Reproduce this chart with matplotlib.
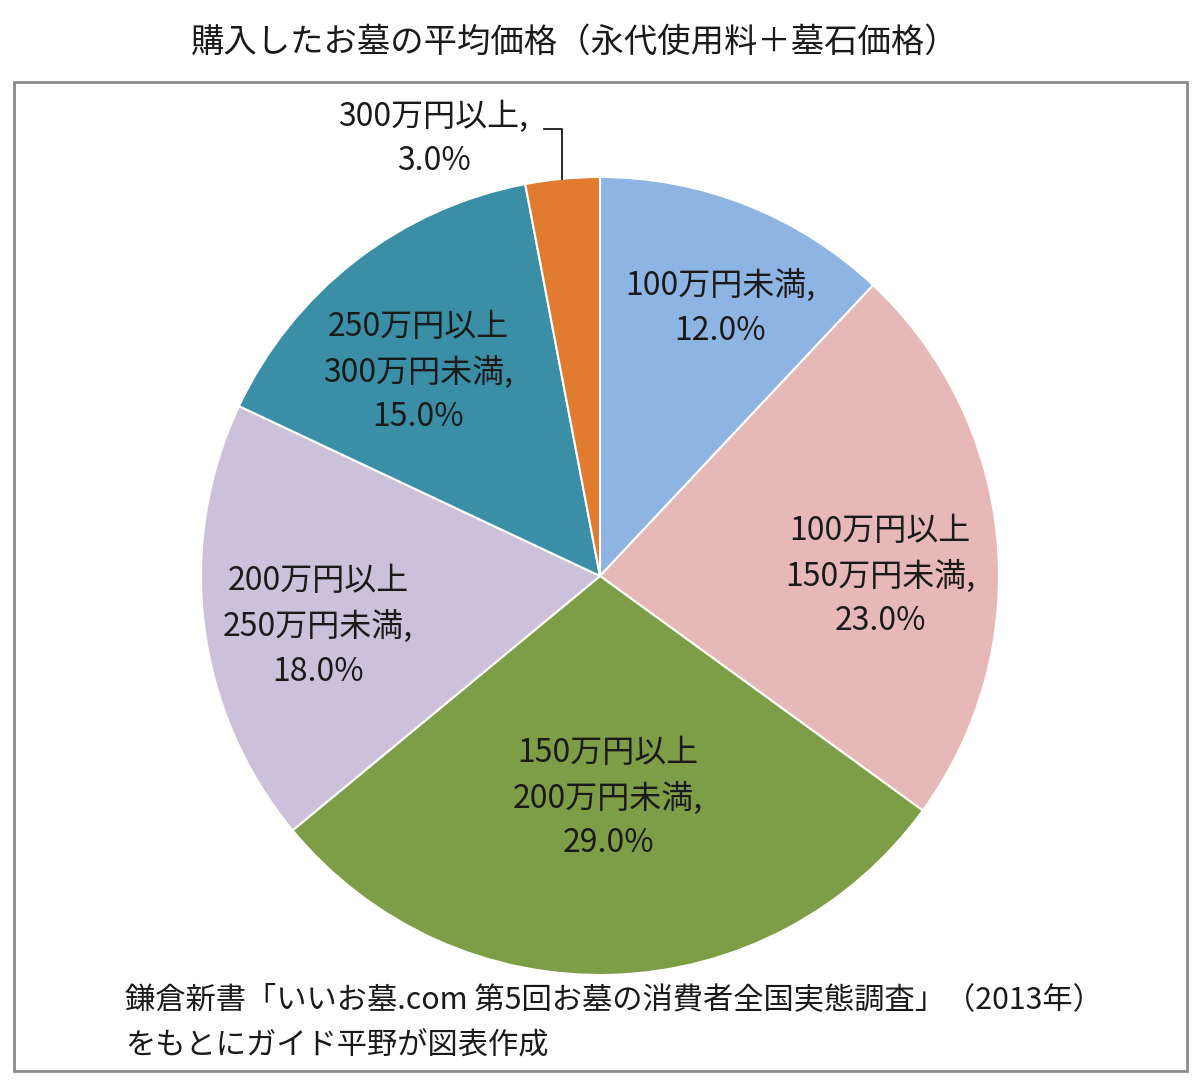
import numpy as np
import matplotlib
matplotlib.use("Agg")
import matplotlib.pyplot as plt
from matplotlib.patches import Rectangle

plt.rcParams['font.family'] = ['Noto Sans CJK JP', 'DejaVu Sans']

title = "購入したお墓の平均価格（永代使用料＋墓石価格）"
categories = ["100万円未満", "100万円以上\n150万円未満", "150万円以上\n200万円未満",
              "200万円以上\n250万円未満", "250万円以上\n300万円未満", "300万円以上"]
values = [12.0, 23.0, 29.0, 18.0, 15.0, 3.0]
colors = ["#8DB4E2", "#E6B9B8", "#7E9D47", "#CCC1DA", "#3A8FA6", "#E07B30"]
source_lines = ["鎌倉新書「いいお墓.com 第5回お墓の消費者全国実態調査」（2013年）",
                "をもとにガイド平野が図表作成"]

W, H = 1200, 1086
fig = plt.figure(figsize=(W / 100, H / 100), dpi=100)

# outer frame
fig.patches.append(Rectangle((14 / W, 1 - 1071 / H), (1187 - 14) / W, (1071 - 82) / H,
                             transform=fig.transFigure, fill=False,
                             edgecolor="#8c8c8c", linewidth=2))

cx, cy, R = 600, 576, 399
ax = fig.add_axes([(cx - R) / W, (H - cy - R) / H, 2 * R / W, 2 * R / H])
wedges, _ = ax.pie(values, colors=colors, startangle=90, counterclock=False,
                   wedgeprops=dict(edgecolor="white", linewidth=1.5))
ax.set_xlim(-1, 1)
ax.set_ylim(-1, 1)
ax.set_aspect("equal")
ax.axis("off")

# label placement (radius fraction, angle offset in degrees from wedge middle)
label_pos = [(0.736, -2.5), (0.702, -5.4), (0.557, 0.3), (0.718, 2.9), (0.685, 3.9)]
fs = 23
ls = 1.5
for i, (w, cat, v) in enumerate(zip(wedges, categories, values)):
    mid_deg = (w.theta1 + w.theta2) / 2
    txt = f"{cat},\n{v:.1f}%"
    if i < len(label_pos):
        r, off = label_pos[i]
        a = np.deg2rad(mid_deg + off)
        ax.text(r * np.cos(a), r * np.sin(a), txt, ha="center", va="center",
                fontsize=fs, color="#1a1a1a", linespacing=ls)
    else:
        mid = np.deg2rad(mid_deg)
        px, py = np.cos(mid), np.sin(mid)
        ly = py + 0.125
        ax.plot([px, px, px - 0.045], [py, ly, ly], color="#1a1a1a", lw=1.3,
                clip_on=False)
        ax.text(px - 0.323, ly - 0.025, txt, ha="center", va="center",
                fontsize=fs, color="#1a1a1a", linespacing=ls)

fig.text(575 / W, 1 - 42 / H, title, ha="center", va="center", fontsize=24,
         color="#1a1a1a")
fig.text(125 / W, 1 - 1000 / H, source_lines[0], ha="left", va="center",
         fontsize=21.8, color="#1a1a1a")
fig.text(125 / W, 1 - 1045 / H, source_lines[1], ha="left", va="center",
         fontsize=21.8, color="#1a1a1a")

fig.savefig("out.png", dpi=100, facecolor="white")
